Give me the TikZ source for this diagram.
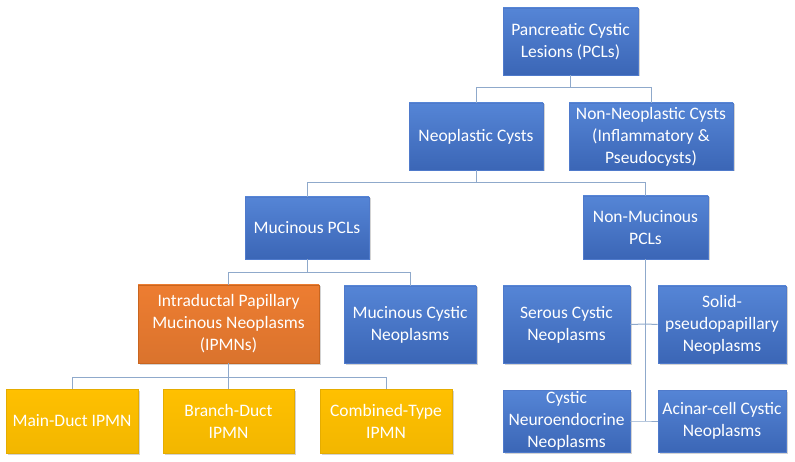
\documentclass[tikz,border=0pt]{standalone}
\usepackage{fontspec}
\setmainfont{Carlito}
\usetikzlibrary{shadows}
\definecolor{bluetop}{HTML}{5585D6}
\definecolor{bluebot}{HTML}{3B66B6}
\definecolor{blueedge}{HTML}{4F7ACB}
\definecolor{orangefill}{HTML}{ED7D31}
\definecolor{orangeedge}{HTML}{C9651F}
\definecolor{yellowfill}{HTML}{FFC000}
\definecolor{yellowedge}{HTML}{E5AC00}
\definecolor{linecol}{HTML}{8FA9CB}
\begin{document}
\begin{tikzpicture}[x=1pt,y=-1pt,
  box/.style={rectangle, draw=blueedge, line width=0.8pt, top color=bluetop, bottom color=bluebot,
    text=white, align=center, inner sep=1pt,
    font=\fontsize{17.5}{22}\selectfont,
    drop shadow={shadow xshift=1.5pt, shadow yshift=-1.5pt, opacity=0.35}},
  obox/.style={box, draw=orangeedge, top color=orangefill, bottom color=orangefill!92!black},
  ybox/.style={box, draw=yellowedge, top color=yellowfill, bottom color=yellowfill!95!black},
  conn/.style={draw=linecol, line width=1pt}]
\useasboundingbox (0,0) rectangle (795,462);

% nodes
\node[box, minimum width=135pt, minimum height=67pt] (pcl) at (570.5,41.5) {Pancreatic Cystic\\Lesions (PCLs)};
\node[box, minimum width=134pt, minimum height=67pt] (neo) at (476,136.5) {Neoplastic Cysts};
\node[box, minimum width=164pt, minimum height=67pt] (nonneo) at (651,136.5) {Non-Neoplastic Cysts\\(Inflammatory \&\\Pseudocysts)};
\node[box, minimum width=124pt, minimum height=62pt] (muc) at (307,228) {Mucinous PCLs};
\node[box, minimum width=125pt, minimum height=63pt] (nonmuc) at (645.5,227.5) {Non-Mucinous\\PCLs};
\node[obox, minimum width=181pt, minimum height=78pt] (ipmn) at (228.5,324) {Intraductal Papillary\\Mucinous Neoplasms\\(IPMNs)};
\node[box, minimum width=132pt, minimum height=77pt] (mcn) at (410,324.5) {Mucinous Cystic\\Neoplasms};
\node[box, minimum width=127pt, minimum height=77pt] (scn) at (566.5,324.5) {Serous Cystic\\Neoplasms};
\node[box, minimum width=128pt, minimum height=77pt] (spn) at (722,324.5) {Solid-\\pseudopapillary\\Neoplasms};
\node[box, minimum width=127pt, minimum height=62pt] (cnn) at (566.5,421) {Cystic\\Neuroendocrine\\Neoplasms};
\node[box, minimum width=128pt, minimum height=62pt] (acc) at (722,421) {Acinar-cell Cystic\\Neoplasms};
\node[ybox, minimum width=132pt, minimum height=64pt] (md) at (72,421) {Main-Duct IPMN};
\node[ybox, minimum width=131pt, minimum height=64pt] (bd) at (228.5,421) {Branch-Duct\\IPMN};
\node[ybox, minimum width=132pt, minimum height=64pt] (ct) at (386,421) {Combined-Type\\IPMN};

% bus junctions
\coordinate (j1) at (570.5,88);
\coordinate (j2) at (476,183);
\coordinate (j3) at (307,273);
\coordinate (j4) at (228.5,377);
\coordinate (j5) at (645.5,324);
\coordinate (j6) at (645.5,421);

% connectors
\draw[conn] (pcl.south) -- (j1) -| (neo.north);
\draw[conn] (j1) -| (nonneo.north);
\draw[conn] (neo.south) -- (j2) -| (muc.north);
\draw[conn] (j2) -| (nonmuc.north);
\draw[conn] (muc.south) -- (j3) -| (ipmn.north);
\draw[conn] (j3) -| (mcn.north);
\draw[conn] (ipmn.south) -- (j4) -| (md.north);
\draw[conn] (j4) -| (ct.north);
\draw[conn] (j4) -- (bd.north);
\draw[conn] (nonmuc.south) -- (j5) -- (j6);
\draw[conn] (scn.east) -- (j5) -- (spn.west);
\draw[conn] (cnn.east) -- (j6) -- (acc.west);
\end{tikzpicture}
\end{document}
